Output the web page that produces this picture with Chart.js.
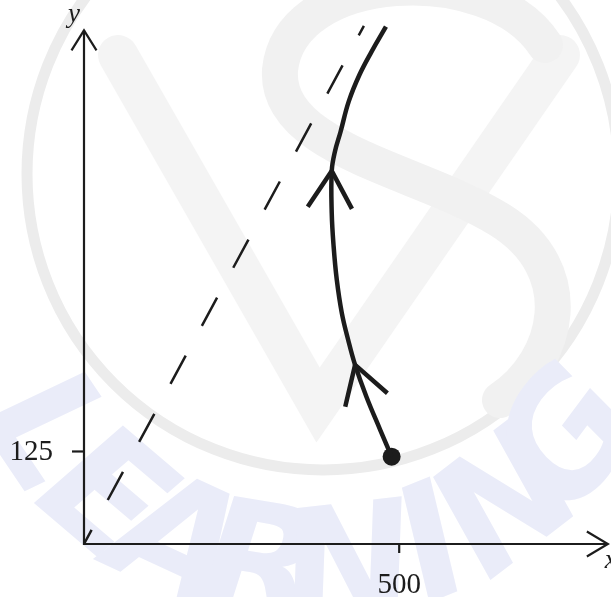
<!DOCTYPE html>
<html>
<head>
<meta charset="utf-8">
<script src="https://cdn.jsdelivr.net/npm/chart.js@4"></script>
<style>
  html, body { margin: 0; padding: 0; background: #fff; overflow: hidden; }
  #myChart { display: block; width: 611px; height: 597px; }
</style>
</head>
<body>
<canvas id="myChart" width="611" height="597"></canvas>
<script>
// path of the particle (x, y), from the dot upwards
const pathX = [488, 470, 448, 430, 419, 409, 401, 396, 393, 393, 398, 407, 420, 437, 456, 479];
const pathY = [118, 154, 199, 242, 276, 312, 357, 402, 447, 504, 530, 557, 598, 634, 665, 699];
// straight dashed guide
const guideX = [0, 444];
const guideY = [0, 700];
// where the direction arrows sit on the path
const arrowAt = [3, 9];
// tick labels
const xTicks = [500];
const yTicks = [125];
// axis lengths (arrow tips)
const xAxisEnd = 831;
const yAxisEnd = 694;

const ink = '#1c1c1c';

// faint logo in the back
const watermark = {
  id: 'watermark',
  beforeDraw(chart) {
    const c = chart.ctx;
    c.save();
    c.fillStyle = '#fff';
    c.fillRect(0, 0, chart.width, chart.height);
    c.strokeStyle = '#ececec';
    c.lineWidth = 11;
    c.beginPath();
    c.arc(323, 174, 296, 0, Math.PI * 2);
    c.stroke();
    // V
    c.strokeStyle = '#f4f4f4';
    c.lineWidth = 40;
    c.lineCap = 'round';
    c.beginPath();
    c.moveTo(118, 55);
    c.lineTo(318, 405);
    c.lineTo(560, 55);
    c.stroke();
    // S
    c.strokeStyle = '#f1f1f1';
    c.lineWidth = 36;
    c.beginPath();
    c.moveTo(545, 45);
    c.bezierCurveTo(490, -40, 290, -30, 280, 70);
    c.bezierCurveTo(275, 150, 420, 170, 500, 220);
    c.bezierCurveTo(580, 270, 560, 360, 500, 400);
    c.stroke();
    // LEARNING along the lower arc
    const word = 'LEARNING';
    c.fillStyle = '#eaecf9';
    c.font = 'bold 160px "DejaVu Sans"';
    c.textAlign = 'center';
    c.textBaseline = 'middle';
    const cx = 310, cy = 250, R = 330;
    for (let i = 0; i < word.length; i++) {
      const th = (146 - i * 15.6) * Math.PI / 180;
      c.save();
      c.translate(cx + R * Math.cos(th), cy + R * Math.sin(th));
      c.rotate(th - Math.PI / 2);
      c.transform(1, 0, -0.15, 1, 0, 0);
      c.fillText(word[i], 0, 0);
      c.restore();
    }
    c.restore();
  }
};

// axes with arrowheads, ticks and labels
const axes = {
  id: 'axes',
  beforeDatasetsDraw(chart) {
    const c = chart.ctx;
    const sx = chart.scales.x, sy = chart.scales.y;
    const x0 = sx.getPixelForValue(0), y0 = sy.getPixelForValue(0);
    const xe = sx.getPixelForValue(xAxisEnd), ye = sy.getPixelForValue(yAxisEnd);
    c.save();
    c.strokeStyle = ink;
    c.lineWidth = 2.2;
    c.beginPath();
    c.moveTo(x0, ye); c.lineTo(x0, y0); c.lineTo(xe, y0);
    c.stroke();
    c.beginPath();
    c.moveTo(x0 - 12.5, ye + 20); c.lineTo(x0, ye); c.lineTo(x0 + 12.5, ye + 20);
    c.moveTo(xe - 21, y0 - 12.5); c.lineTo(xe, y0); c.lineTo(xe - 21, y0 + 12.5);
    c.stroke();

    c.fillStyle = ink;
    c.font = '29px "Liberation Serif"';
    c.textBaseline = 'middle';
    yTicks.forEach(v => {
      const p = sy.getPixelForValue(v);
      c.beginPath(); c.moveTo(x0 - 12, p); c.lineTo(x0, p); c.stroke();
      c.textAlign = 'right';
      c.fillText(String(v), x0 - 31, p + 1);
    });
    xTicks.forEach(v => {
      const p = sx.getPixelForValue(v);
      c.beginPath(); c.moveTo(p, y0); c.lineTo(p, y0 + 9); c.stroke();
      c.textAlign = 'center';
      c.textBaseline = 'alphabetic';
      c.fillText(String(v), p, y0 + 49);
    });
    c.font = 'italic 27px "Liberation Serif"';
    c.textAlign = 'left';
    c.textBaseline = 'alphabetic';
    c.fillText('y', x0 - 16, ye - 8);
    c.fillText('x', xe - 3, y0 + 24);
    c.restore();
  }
};

// direction chevrons on the path
const arrows = {
  id: 'arrows',
  afterDatasetsDraw(chart) {
    const pts = chart.getDatasetMeta(1).data;
    const c = chart.ctx;
    c.save();
    c.strokeStyle = ink;
    c.lineWidth = 4.5;
    c.lineCap = 'butt';
    c.lineJoin = 'miter';
    arrowAt.forEach(i => {
      const a = pts[i - 1], b = pts[i + 1], t = pts[i];
      const ang = Math.atan2(b.y - a.y, b.x - a.x);
      const L = 43, spread = 31 * Math.PI / 180;
      c.beginPath();
      c.moveTo(t.x - L * Math.cos(ang - spread), t.y - L * Math.sin(ang - spread));
      c.lineTo(t.x, t.y);
      c.lineTo(t.x - L * Math.cos(ang + spread), t.y - L * Math.sin(ang + spread));
      c.stroke();
    });
    c.restore();
  }
};

const ctx = document.querySelector('#myChart').getContext('2d');

const myChart = new Chart(ctx, {
  type: 'scatter',
  data: {
    datasets: [
      {
        data: guideX.map((x, i) => ({ x: x, y: guideY[i] })),
        showLine: true,
        borderColor: ink,
        borderWidth: 2.5,
        borderDash: [32, 34],
        borderDashOffset: 16,
        pointRadius: 0,
        clip: false,
      },
      {
        data: pathX.map((x, i) => ({ x: x, y: pathY[i] })),
        showLine: true,
        borderColor: ink,
        borderWidth: 4.5,
        tension: 0.4,
        pointRadius: 0,
        clip: false,
      },
      {
        data: [{ x: pathX[0], y: pathY[0] }],
        pointRadius: 9,
        pointBackgroundColor: ink,
        pointBorderWidth: 0,
        clip: false,
      },
    ],
  },
  options: {
    responsive: false,
    animation: false,
    devicePixelRatio: 1,
    layout: { autoPadding: false, padding: { left: 84, right: 0, top: 0, bottom: 53 } },
    plugins: {
      legend: { display: false },
      tooltip: { enabled: false },
    },
    scales: {
      x: { type: 'linear', min: 0, max: 836, display: false },
      y: { type: 'linear', min: 0, max: 735, display: false },
    },
  },
  plugins: [watermark, axes, arrows],
});
</script>
</body>
</html>
